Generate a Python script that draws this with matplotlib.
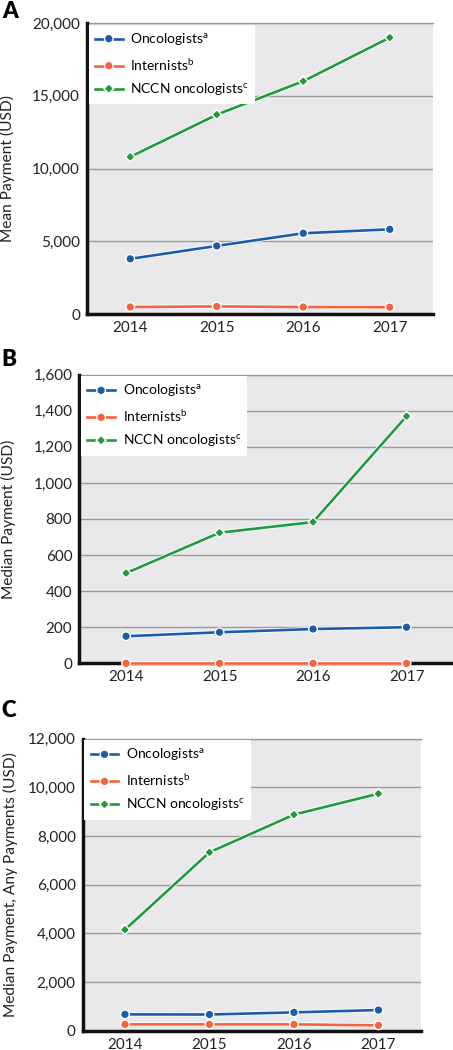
import matplotlib
matplotlib.use("Agg")
import matplotlib.pyplot as plt
import matplotlib.patheffects as pe
from matplotlib.ticker import FuncFormatter, MultipleLocator

plt.rcParams['font.family'] = ['Lato', 'DejaVu Sans']

years = [2014, 2015, 2016, 2017]
series_labels = ["Oncologists$^{\\mathregular{a}}$", "Internists$^{\\mathregular{b}}$",
                 "NCCN oncologists$^{\\mathregular{c}}$"]

# Panel A: mean payment
mean_onc = [3790, 4680, 5550, 5820]
mean_int = [480, 520, 480, 470]
mean_nccn = [10800, 13700, 16000, 19000]

# Panel B: median payment
med_onc = [150, 172, 190, 200]
med_int = [0, 0, 0, 0]
med_nccn = [500, 724, 783, 1370]

# Panel C: median payment, any payments
any_onc = [670, 665, 753, 849]
any_int = [260, 260, 260, 220]
any_nccn = [4150, 7330, 8880, 9740]

colors = ["#1a5ca8", "#f4623e", "#1f9a3e"]
markers = ["o", "o", "D"]
msizes = [4.2, 4.2, 3.0]

fig = plt.figure(figsize=(4.53, 10.5), dpi=100)

panels = [
    dict(rect=[87/453, 1 - 314/1050, 346/453, 291/1050], data=[mean_onc, mean_int, mean_nccn],
         ylim=(0, 20000), step=5000, ylabel="Mean Payment (USD)", letter="A", lab_y=0.999, ylx=-0.208),
    dict(rect=[79.3/453, 1 - 663.3/1050, 374/453, 288.6/1050], data=[med_onc, med_int, med_nccn],
         ylim=(0, 1600), step=200, ylabel="Median Payment (USD)", letter="B", lab_y=0.6675, ylx=-0.169),
    dict(rect=[82.7/453, 1 - 1030.7/1050, 338/453, 292/1050], data=[any_onc, any_int, any_nccn],
         ylim=(0, 12000), step=2000, ylabel="Median Payment, Any Payments (USD)", letter="C", lab_y=0.3335, ylx=-0.191),
]

fmt = FuncFormatter(lambda v, p: f"{int(v):,}")

for P in panels:
    ax = fig.add_axes(P["rect"])
    ax.set_facecolor("#e9e9eb")
    for vals, c, m, ms, lab in zip(P["data"], colors, markers, msizes, series_labels):
        ax.plot(years, vals, color=c, lw=1.9, marker=m, ms=ms, label=lab, zorder=5, clip_on=False,
                path_effects=[pe.Stroke(linewidth=3.0, foreground="white"), pe.Normal()])
    ax.set_xlim(2013.5, 2017.5)
    ax.set_ylim(*P["ylim"])
    ax.yaxis.set_major_locator(MultipleLocator(P["step"]))
    ax.yaxis.set_major_formatter(fmt)
    ax.set_xticks(years)
    ax.grid(axis="y", color="#9a9a9a", lw=1.0, zorder=1)
    ax.set_axisbelow(True)
    ax.tick_params(length=0, labelsize=11, pad=5, colors="#222222")
    for s in ["left", "bottom"]:
        ax.spines[s].set_linewidth(2.5)
        ax.spines[s].set_color("#111111")
        ax.spines[s].set_zorder(4)
    ax.spines["right"].set_visible(False)
    ax.spines["top"].set_color("#9a9a9a")
    ax.spines["top"].set_linewidth(1.0)
    ax.set_ylabel(P["ylabel"], fontsize=11.2, color="#222222")
    ax.yaxis.set_label_coords(P["ylx"], 0.5)
    leg = ax.legend(loc="upper left", fontsize=10, frameon=True, fancybox=False,
                    borderaxespad=0.12, handlelength=2.0, handletextpad=0.55, labelspacing=0.6,
                    borderpad=0.45)
    leg.set_zorder(6)
    leg.get_frame().set_linewidth(0)
    leg.get_frame().set_facecolor("white")
    leg.get_frame().set_alpha(1)
    fig.text(0.004, P["lab_y"], P["letter"], fontsize=16, fontweight="heavy", va="top", ha="left")

fig.savefig("out.png", dpi=100)
